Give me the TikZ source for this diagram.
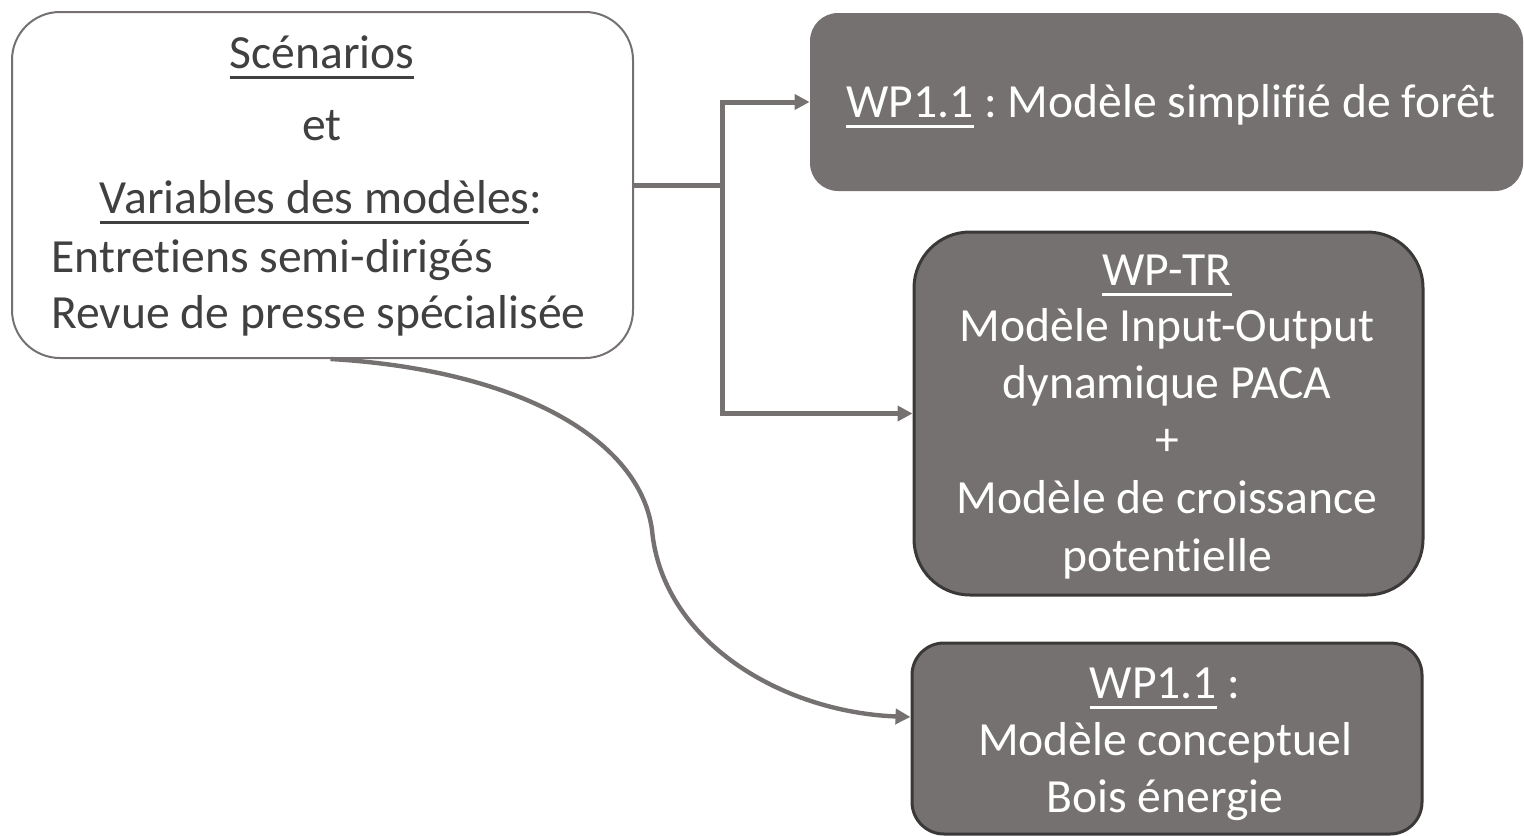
\documentclass[tikz,border=0pt]{standalone}
\usepackage{fontspec}
\setmainfont{Carlito}[Ligatures=NoCommon]
\usetikzlibrary{arrows.meta,calc}
\frenchspacing

\definecolor{boxgray}{HTML}{767171}
\definecolor{edgedark}{HTML}{3B3838}
\definecolor{inkdark}{HTML}{404040}

% underline drawn a fixed distance under the baseline
\newsavebox{\ulbox}
\newcommand{\ulword}[1]{\sbox{\ulbox}{#1}\rlap{\rule[-5.5pt]{\wd\ulbox}{1.3pt}}\usebox{\ulbox}}

\tikzset{
  srcbox/.style={draw=boxgray, line width=1pt, rounded corners=24pt, fill=white},
  wpbox/.style={fill=boxgray, draw=edgedark, line width=1.5pt},
  txt/.style={inner sep=0pt, font=\fontsize{23.8}{29}\selectfont},
  darktxt/.style={txt, text=inkdark},
  lighttxt/.style={txt, text=white},
  conn/.style={draw=boxgray, line width=2.5pt},
  tip/.style={-{Triangle[length=7.5pt,width=7.5pt]}},
}

\begin{document}
\begin{tikzpicture}[x=0.5pt, y=-0.5pt]
\useasboundingbox (0,0) rectangle (1524,835);

% source box
\node[srcbox, minimum width=310.5pt, minimum height=173pt] (src) at (322.5,185) {};
\node[darktxt, anchor=base] (s1) at (322,68) {\ulword{Scénarios}};
\node[darktxt, anchor=base] (s2) at (322,140) {et};
\node[darktxt, anchor=base] (s3) at (321,213) {\ulword{Variables des modèles}:};
\node[darktxt, anchor=base west] (s4) at (51,272) {Entretiens semi-dirigés};
\node[darktxt, anchor=base west] (s5) at (51,328) {Revue de presse spécialisée};

% forest model box
\node[fill=boxgray, rounded corners=14pt, minimum width=356.5pt, minimum height=89pt] (wpa) at (1166.5,102) {};
\node[lighttxt, anchor=base] (a1) at (1171,117) {\ulword{WP1.1} : Modèle simplifié de forêt};

% input-output box
\node[wpbox, rounded corners=28pt, minimum width=254.5pt, minimum height=181.5pt] (wptr) at (1168.5,413.5) {};
\node[lighttxt, anchor=base] (t1) at (1167,285) {\ulword{WP-TR}};
\node[lighttxt, anchor=base] (t2) at (1167,341) {Modèle Input-Output};
\node[lighttxt, anchor=base] (t3) at (1167,398) {dynamique PACA};
\node[lighttxt, anchor=base] (t4) at (1167,455) {+};
\node[lighttxt, anchor=base] (t5) at (1167,513) {Modèle de croissance};
\node[lighttxt, anchor=base] (t6) at (1167,571) {potentielle};

% wood energy box
\node[wpbox, rounded corners=16pt, minimum width=255pt, minimum height=95.5pt] (wpb) at (1167,738.5) {};
\node[lighttxt, anchor=base] (b1) at (1165,698) {\ulword{WP1.1} :};
\node[lighttxt, anchor=base] (b2) at (1165,755) {Modèle conceptuel};
\node[lighttxt, anchor=base] (b3) at (1165,812) {Bois énergie};

% connectors
\draw[conn] (src.east) -- ++(88,0) coordinate (fork);
\draw[conn, tip] (fork) |- (wpa.west);
\draw[conn, tip] (fork) |- (wptr.west);
\draw[conn, line width=2.2pt, tip] ($(src.south)+(8,0)$)
  .. controls (520,370) and (640,440) .. (652,530)
  .. controls (662,640) and (780,712) .. ($(wpb.west)+(0,-21.5)$);
\end{tikzpicture}
\end{document}
